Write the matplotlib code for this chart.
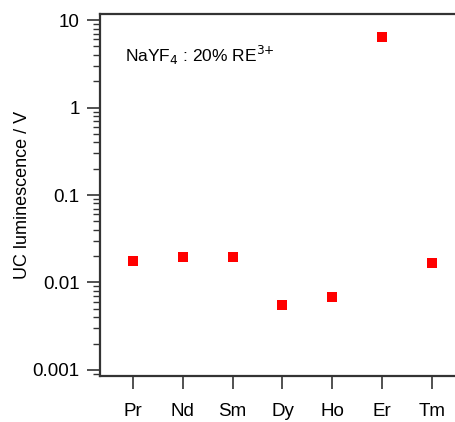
import numpy as np
import matplotlib.pyplot as plt
from matplotlib.ticker import FixedLocator, LogLocator, NullFormatter

plt.rcParams['font.family'] = ['Liberation Sans', 'DejaVu Sans']

ions = ['Pr', 'Nd', 'Sm', 'Dy', 'Ho', 'Er', 'Tm']
lum = [0.0178, 0.0198, 0.0198, 0.00546, 0.0068, 6.45, 0.0169]
ytick_vals = [0.001, 0.01, 0.1, 1, 10]
ytick_labels = ['0.001', '0.01', '0.1', '1', '10']

W, H = 455, 422
fig = plt.figure(figsize=(W / 100, H / 100), dpi=100)
# axes runs a little past the right edge, as in the original crop
ax = fig.add_axes([100 / W, 1 - 376 / H, 365 / W, 362 / H])

x = np.arange(len(ions))
ax.plot(x, lum, 's', color='#ff0000', markersize=6.5, markeredgewidth=0)

ax.set_yscale('log')
ax.set_ylim(10 ** -3.069, 10 ** 1.069)
ax.set_xlim(-0.66, len(ions) - 1 + 0.66)

ax.set_xticks(x)
ax.set_xticklabels(ions, fontsize=13.5)
ax.yaxis.set_major_locator(FixedLocator(ytick_vals))
ax.set_yticklabels(ytick_labels, fontsize=13.5)
ax.yaxis.set_minor_locator(LogLocator(base=10, subs=np.arange(2, 10)))
ax.yaxis.set_minor_formatter(NullFormatter())

for s in ['left', 'bottom', 'top']:
    ax.spines[s].set_linewidth(1.6)
    ax.spines[s].set_color('#333333')
ax.spines['right'].set_visible(False)

ax.tick_params(axis='both', which='major', direction='out', length=9.5,
               width=1.2, color='#333333', pad=5)
ax.tick_params(axis='y', which='minor', direction='out', length=5,
               width=1.0, color='#333333')
ax.tick_params(axis='x', pad=10)

ax.set_ylabel('UC luminescence / V', fontsize=13, labelpad=1)
ax.text(125 / W, 1 - 62 / H, 'NaYF$_4$ : 20% RE$^{3{+}}$', transform=fig.transFigure,
        fontsize=12.5, va='baseline', ha='left')

fig.savefig('out.png', dpi=100)
